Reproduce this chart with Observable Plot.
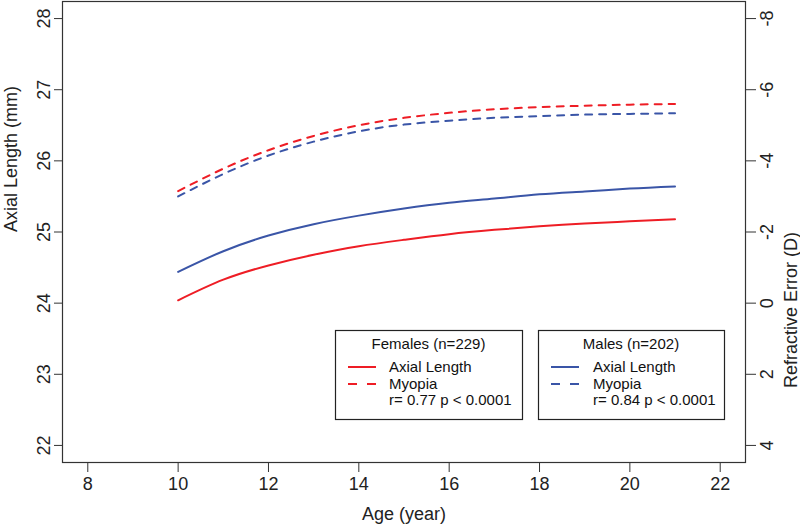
<!DOCTYPE html>
<html><head><meta charset="utf-8">
<script src="https://cdn.jsdelivr.net/npm/d3@7"></script>
<script src="https://cdn.jsdelivr.net/npm/@observablehq/plot@0.6"></script>
<style>
body{margin:0;background:#fff}
svg{font-family:"Liberation Sans",Arial,Helvetica,sans-serif}
</style>
</head><body><div id="chart"></div>
<script>
// ---- data ----
const ages = [10, 11, 12, 13, 14, 15, 16, 17, 18, 19, 20, 21];
const femaleAxial = [24.04, 24.33, 24.53, 24.68, 24.80, 24.89, 24.97, 25.03, 25.08, 25.12, 25.15, 25.18]; // mm
const maleAxial   = [24.44, 24.73, 24.95, 25.11, 25.23, 25.33, 25.41, 25.47, 25.53, 25.57, 25.61, 25.64]; // mm
const femaleMyopia = [-3.15, -3.78, -4.30, -4.70, -5.00, -5.21, -5.35, -5.45, -5.51, -5.55, -5.58, -5.60]; // D
const maleMyopia   = [-3.00, -3.63, -4.15, -4.54, -4.83, -5.02, -5.13, -5.21, -5.26, -5.30, -5.32, -5.34]; // D
const xTicks = [8, 10, 12, 14, 16, 18, 20, 22];
const axialTicks = [22, 23, 24, 25, 26, 27, 28];
const refractiveTicks = [4, 2, 0, -2, -4, -6, -8];
const legendGroups = [
  {title: "Females (n=229)", stats: "r= 0.77 p < 0.0001", color: "#ee1d25"},
  {title: "Males (n=202)", stats: "r= 0.84 p < 0.0001", color: "#3a55a7"}
];
const legendItems = ["Axial Length", "Myopia"];

// secondary axis: refractive error (D) <-> axial length (mm)
const reToAL = re => 22 + (4 - re) / 2;
const alToRE = al => 4 - 2 * (al - 22);

const RED = legendGroups[0].color, BLUE = legendGroups[1].color;
const rows = (vals, f = v => v) => ages.map((a, i) => ({age: a, v: f(vals[i])}));

// R-style 4% axis extension
const ext = ([a, b]) => [a - 0.04 * (b - a), b + 0.04 * (b - a)];

const fmt = v => { const r = Math.round(v); return r < 0 ? "-" + Math.abs(r) : String(r); };

const plot = Plot.plot({
  width: 800, height: 528,
  marginLeft: 62, marginRight: 55, marginTop: 1, marginBottom: 66,
  style: {fontFamily: "Liberation Sans, Arial, Helvetica, sans-serif", fontSize: "18px", color: "#222", background: "#fff"},
  x: {domain: ext([d3.min(xTicks), d3.max(xTicks)])},
  y: {domain: ext([d3.min(axialTicks), d3.max(axialTicks)])},
  marks: [
    Plot.frame({stroke: "#333", strokeWidth: 1.2}),
    Plot.axisX({ticks: xTicks, tickSize: 10, tickPadding: 5, tickFormat: fmt, label: null, stroke: "#333"}),
    Plot.axisY({anchor: "left", ticks: axialTicks, tickFormat: fmt, tickSize: 8, tickPadding: 5, tickRotate: -90,
                textAnchor: "middle", lineAnchor: "bottom", label: null, stroke: "#333"}),
    Plot.axisY({anchor: "right", ticks: refractiveTicks.map(reToAL), tickFormat: v => fmt(alToRE(v)), tickSize: 10, tickPadding: 5, tickRotate: -90,
                textAnchor: "middle", lineAnchor: "top", label: null, stroke: "#333"}),
    Plot.text(["Age (year)"], {frameAnchor: "bottom", dy: 57, text: d => d}),
    Plot.text(["Axial Length (mm)"], {frameAnchor: "left", dx: -51, rotate: -90, text: d => d}),
    Plot.text(["Refractive Error (D)"], {frameAnchor: "right", dx: 46, rotate: -90, text: d => d}),
    Plot.line(rows(femaleAxial), {x: "age", y: "v", stroke: RED, strokeWidth: 2, curve: "natural"}),
    Plot.line(rows(maleAxial), {x: "age", y: "v", stroke: BLUE, strokeWidth: 2, curve: "natural"}),
    Plot.line(rows(femaleMyopia, reToAL), {x: "age", y: "v", stroke: RED, strokeWidth: 2, strokeDasharray: "7,7", curve: "natural"}),
    Plot.line(rows(maleMyopia, reToAL), {x: "age", y: "v", stroke: BLUE, strokeWidth: 2, strokeDasharray: "7,7", curve: "natural"})
  ]
});

// legends (two boxed keys)
const svg = d3.select(plot);
const boxes = [{x: 335, y: 330, w: 187, h: 89, lx: 348, tx: 389}, {x: 538, y: 330, w: 186, h: 89, lx: 551, tx: 593}];
legendGroups.forEach((g, i) => {
  const b = boxes[i];
  const G = svg.append("g").attr("font-size", 15).attr("fill", "#111").attr("text-anchor", "start");
  G.append("rect").attr("x", b.x + 0.5).attr("y", b.y + 0.5).attr("width", b.w).attr("height", b.h)
    .attr("fill", "#fff").attr("stroke", "#222").attr("stroke-width", 1.2);
  G.append("text").attr("x", b.x + b.w / 2).attr("y", b.y + 19).attr("text-anchor", "middle").text(g.title);
  legendItems.forEach((t, j) => {
    const yy = b.y + 37 + j * 17;
    G.append("line").attr("x1", b.lx).attr("x2", b.lx + 28).attr("y1", yy).attr("y2", yy)
      .attr("stroke", g.color).attr("stroke-width", 2).attr("stroke-dasharray", j ? "9,10" : null);
    G.append("text").attr("x", b.tx).attr("y", yy + 5).attr("text-anchor", "start").text(t);
  });
  G.append("text").attr("x", b.tx).attr("y", b.y + 75).attr("text-anchor", "start").text(g.stats);
});

document.getElementById("chart").appendChild(plot);
</script>
</body></html>
